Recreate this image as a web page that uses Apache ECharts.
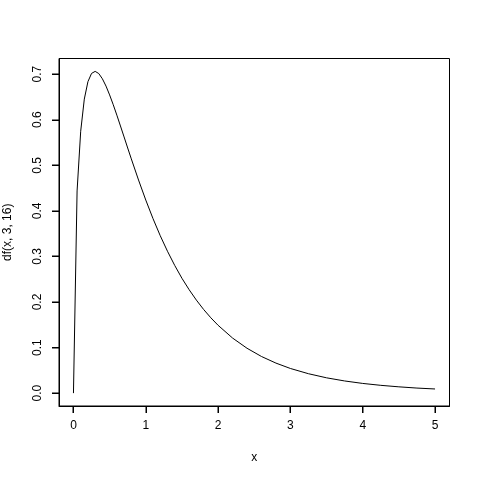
<!DOCTYPE html>
<html>
<head>
<meta charset="utf-8">
<script src="https://cdn.jsdelivr.net/npm/echarts@6/dist/echarts.min.js"></script>
<style>html,body{margin:0;padding:0;background:#fff}#c{width:480px;height:480px}</style>
</head>
<body>
<div id="c"></div>
<script>
const xValues = [0, 0.05, 0.1, 0.15, 0.2, 0.25, 0.3, 0.35, 0.4, 0.45, 0.5, 0.55, 0.6, 0.65, 0.7, 0.75, 0.8, 0.9, 1.0, 1.1, 1.2, 1.3, 1.4, 1.5, 1.6, 1.7, 1.8, 1.9, 2.0, 2.2, 2.4, 2.6, 2.8, 3.0, 3.25, 3.5, 3.75, 4.0, 4.25, 4.5, 4.75, 5.0];
const densityValues = [0, 0.4437, 0.5748, 0.6453, 0.6836, 0.7017, 0.7062, 0.7014, 0.6899, 0.6739, 0.6545, 0.6330, 0.6101, 0.5863, 0.5622, 0.5380, 0.5141, 0.4677, 0.4238, 0.3830, 0.3455, 0.3114, 0.2803, 0.2521, 0.2269, 0.2041, 0.1836, 0.1653, 0.1489, 0.1209, 0.0985, 0.0804, 0.0659, 0.0541, 0.0426, 0.0336, 0.0267, 0.0213, 0.0171, 0.0138, 0.0111, 0.0091];
const xTicks = [0, 1, 2, 3, 4, 5];
const yTicks = [0, 0.1, 0.2, 0.3, 0.4, 0.5, 0.6, 0.7];
const xTitle = 'x';
const yTitle = 'df(x, 3, 16)';

const X_MIN = -0.2, X_MAX = 5.2, Y_MIN = -0.028248, Y_MAX = 0.73444;
const TICK = 7;
const font = 'Liberation Sans, Arial, Helvetica, sans-serif';
const chart = echarts.init(document.getElementById('c'), null, {renderer: 'canvas'});
const pts = xValues.map((x, i) => [x, densityValues[i]]);
chart.setOption({
  animation: false,
  grid: {left: 59, right: 30.5, top: 58.5, bottom: 74, containLabel: false, outerBoundsMode: 'none', show: true, borderColor: '#000', borderWidth: 1, backgroundColor: 'transparent'},
  xAxis: {
    type: 'value', min: X_MIN, max: X_MAX,
    name: xTitle, nameLocation: 'middle', nameGap: 46,
    nameTextStyle: {fontFamily: font, fontSize: 12, color: '#000'},
    axisLine: {show: true, onZero: false, lineStyle: {color: '#000', width: 1}},
    splitLine: {show: false},
    axisTick: {show: true, inside: false, length: TICK, lineStyle: {color: '#000', width: 1}, customValues: xTicks},
    axisLabel: {fontFamily: font, fontSize: 12, color: '#000', margin: 14, customValues: xTicks, formatter: v => String(v)}
  },
  yAxis: {
    type: 'value', min: Y_MIN, max: Y_MAX,
    name: yTitle, nameLocation: 'middle', nameGap: 45, nameRotate: 90,
    nameTextStyle: {fontFamily: font, fontSize: 12, color: '#000'},
    axisLine: {show: true, onZero: false, lineStyle: {color: '#000', width: 1}},
    splitLine: {show: false},
    axisTick: {show: true, inside: false, length: TICK, lineStyle: {color: '#000', width: 1}, customValues: yTicks},
    axisLabel: {fontFamily: font, fontSize: 12, color: '#000', margin: 15, rotate: 90, customValues: yTicks, formatter: v => v.toFixed(1)}
  },
  series: [{
    type: 'line', data: pts, showSymbol: false, smooth: false,
    lineStyle: {color: '#000', width: 1}
  }]
});

// Backup tick marks (filled 1px rects) placed through the chart's own scales
const tickGraphics = [];
xTicks.forEach(v => {
  const p = chart.convertToPixel({xAxisIndex: 0, yAxisIndex: 0}, [v, Y_MIN]);
  if (p && isFinite(p[0])) {
    tickGraphics.push({type: 'rect', z: 100, silent: true, shape: {x: Math.round(p[0]) - 0.5, y: Math.round(p[1]), width: 1, height: TICK}, style: {fill: '#000'}});
  }
});
yTicks.forEach(v => {
  const p = chart.convertToPixel({xAxisIndex: 0, yAxisIndex: 0}, [X_MIN, v]);
  if (p && isFinite(p[1])) {
    tickGraphics.push({type: 'rect', z: 100, silent: true, shape: {x: Math.round(p[0]) - TICK, y: Math.round(p[1]) - 0.5, width: TICK, height: 1}, style: {fill: '#000'}});
  }
});
chart.setOption({graphic: {elements: tickGraphics}});
</script>
</body>
</html>
